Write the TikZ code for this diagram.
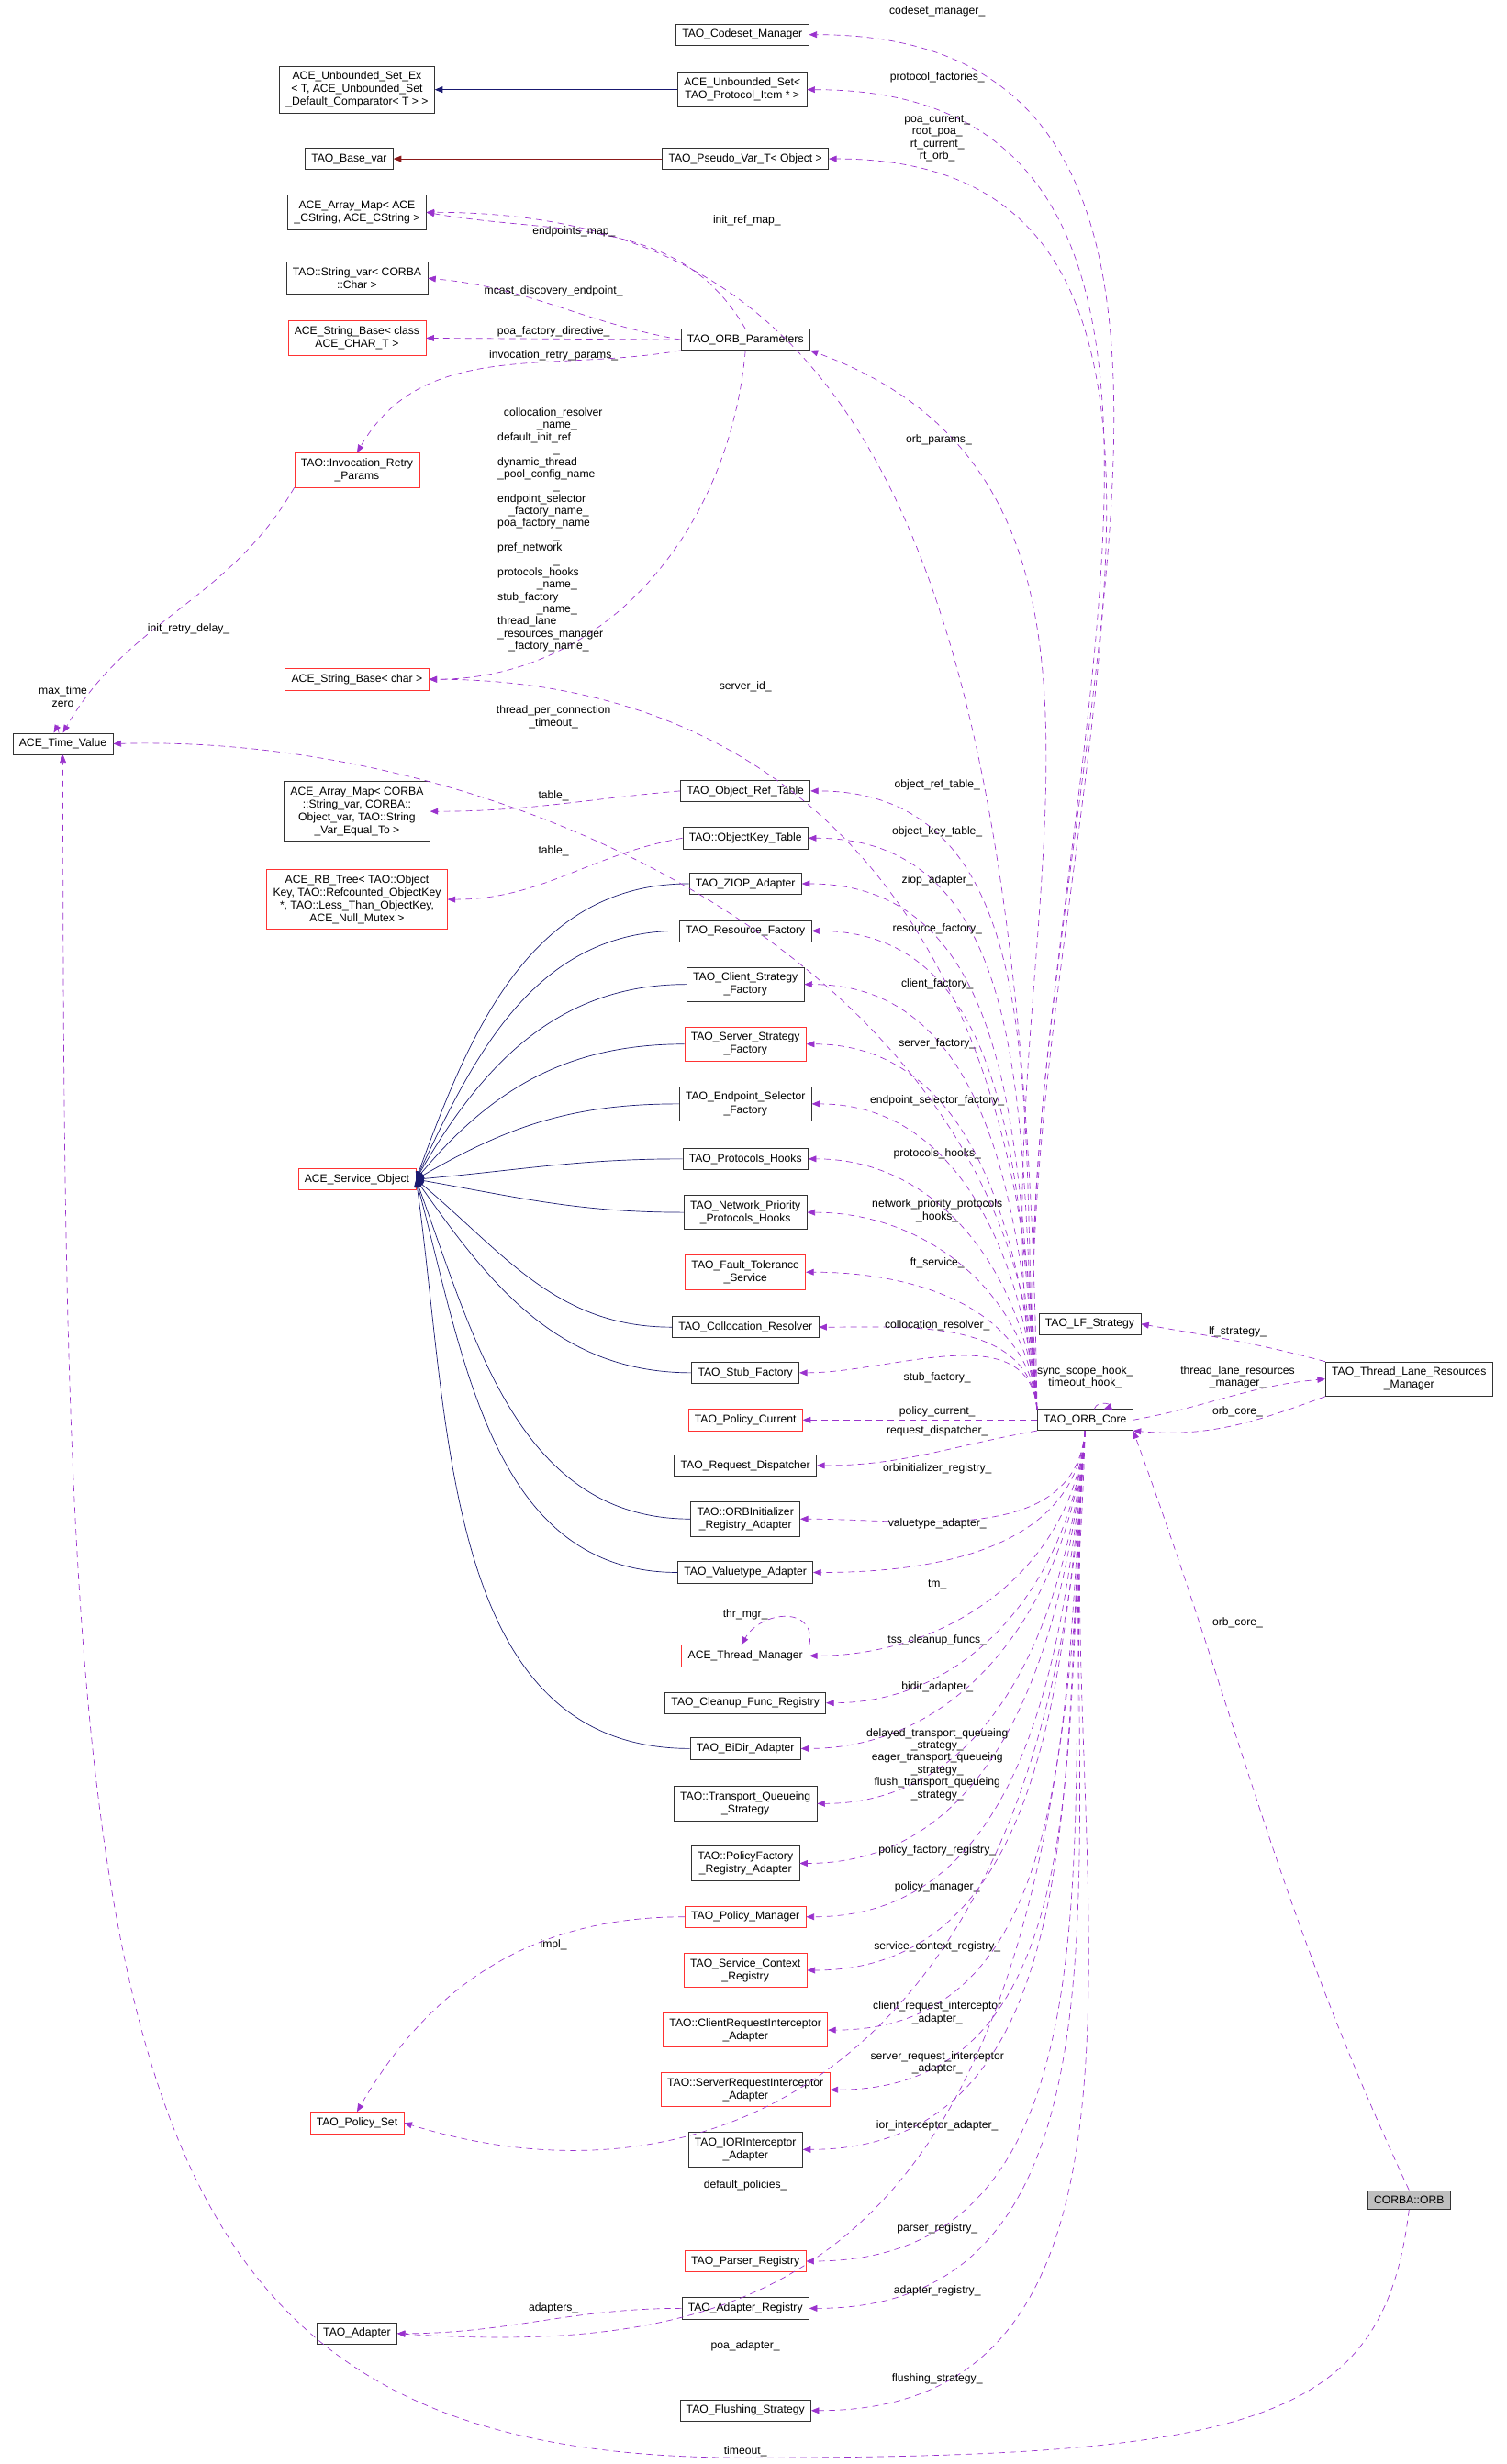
\documentclass[tikz,border=0pt]{standalone}
\usepackage{fontspec}
\setmainfont{Liberation Sans}
\usetikzlibrary{arrows.meta}
\definecolor{edgepurple}{RGB}{154,50,205}
\definecolor{inhblue}{RGB}{25,25,112}
\definecolor{tmplred}{RGB}{139,26,26}
\tikzset{>={Triangle[length=5pt,width=4pt]}, line width=0.5pt}
\tikzset{
  cls/.style={draw=black!80,rectangle,inner xsep=4pt,inner ysep=3.5pt,align=center,font=\fontsize{7.1}{8.2}\selectfont},
  bad/.style={cls,draw=red!80},
  ref/.style={->,dashed,dash pattern=on 4pt off 3pt,draw=edgepurple},
  inh/.style={->,draw=inhblue},
  lbl/.style={align=center,font=\fontsize{7.1}{7.8}\selectfont,inner sep=0pt}
}
\begin{document}
\begin{tikzpicture}[x=1pt,y=-1pt]
  \useasboundingbox (0,0) rectangle (958,1567);

  % top classes
  \node[cls] (codeset) at (472,22) {TAO\_Codeset\_Manager};
  \node[cls] (unbset) at (472,57) {ACE\_Unbounded\_Set<\\TAO\_Protocol\_Item * >};
  \node[cls] (unbsetex) at (227,57) {ACE\_Unbounded\_Set\_Ex\\< T, ACE\_Unbounded\_Set\\\_Default\_Comparator< T > >};
  \node[cls] (basevar) at (222,101) {TAO\_Base\_var};
  \node[cls] (pseudo) at (474,101) {TAO\_Pseudo\_Var\_T< Object >};
  \node[cls] (amapace) at (227,135) {ACE\_Array\_Map< ACE\\\_CString, ACE\_CString >};
  \node[cls] (strvar) at (227,177) {TAO::String\_var< CORBA\\::Char >};
  \node[bad] (strbasecls) at (227,215) {ACE\_String\_Base< class\\ACE\_CHAR\_T >};
  \node[cls] (params) at (474,216) {TAO\_ORB\_Parameters};
  \node[bad] (retry) at (227,299) {TAO::Invocation\_Retry\\\_Params};
  \node[bad] (strbase) at (227,432) {ACE\_String\_Base< char >};
  \node[cls] (timeval) at (40,473) {ACE\_Time\_Value};
  \node[cls] (amapcorba) at (227,516) {ACE\_Array\_Map< CORBA\\::String\_var, CORBA::\\Object\_var, TAO::String\\\_Var\_Equal\_To >};
  \node[cls] (objref) at (474,503) {TAO\_Object\_Ref\_Table};
  \node[cls] (objkey) at (474,533) {TAO::ObjectKey\_Table};
  \node[bad] (rbtree) at (227,572) {ACE\_RB\_Tree< TAO::Object\\Key, TAO::Refcounted\_ObjectKey\\*, TAO::Less\_Than\_ObjectKey,\\ACE\_Null\_Mutex >};

  % service objects
  \node[bad] (svc) at (227,750) {ACE\_Service\_Object};
  \node[cls] (ziop) at (474,562) {TAO\_ZIOP\_Adapter};
  \node[cls] (resfac) at (474,592) {TAO\_Resource\_Factory};
  \node[cls] (client) at (474,626) {TAO\_Client\_Strategy\\\_Factory};
  \node[bad] (server) at (474,664) {TAO\_Server\_Strategy\\\_Factory};
  \node[cls] (endpoint) at (474,702) {TAO\_Endpoint\_Selector\\\_Factory};
  \node[cls] (prothooks) at (474,737) {TAO\_Protocols\_Hooks};
  \node[cls] (netprio) at (474,771) {TAO\_Network\_Priority\\\_Protocols\_Hooks};
  \node[bad] (ft) at (474,809) {TAO\_Fault\_Tolerance\\\_Service};
  \node[cls] (colloc) at (474,844) {TAO\_Collocation\_Resolver};
  \node[cls] (stub) at (474,873) {TAO\_Stub\_Factory};
  \node[bad] (polcur) at (474,903) {TAO\_Policy\_Current};
  \node[cls] (reqdisp) at (474,932) {TAO\_Request\_Dispatcher};
  \node[cls] (orbinit) at (474,966) {TAO::ORBInitializer\\\_Registry\_Adapter};
  \node[cls] (valtype) at (474,1000) {TAO\_Valuetype\_Adapter};
  \node[bad] (thrmgr) at (474,1053) {ACE\_Thread\_Manager};
  \node[cls] (cleanup) at (474,1083) {TAO\_Cleanup\_Func\_Registry};
  \node[cls] (bidir) at (474,1112) {TAO\_BiDir\_Adapter};
  \node[cls] (tqs) at (474,1147) {TAO::Transport\_Queueing\\\_Strategy};
  \node[cls] (polfac) at (474,1185) {TAO::PolicyFactory\\\_Registry\_Adapter};
  \node[bad] (polmgr) at (474,1219) {TAO\_Policy\_Manager};
  \node[bad] (svcctx) at (474,1253) {TAO\_Service\_Context\\\_Registry};
  \node[bad] (clireq) at (474,1291) {TAO::ClientRequestInterceptor\\\_Adapter};
  \node[bad] (srvreq) at (474,1329) {TAO::ServerRequestInterceptor\\\_Adapter};
  \node[cls] (ior) at (474,1367) {TAO\_IORInterceptor\\\_Adapter};
  \node[bad] (polset) at (227,1350) {TAO\_Policy\_Set};
  \node[bad] (parser) at (474,1438) {TAO\_Parser\_Registry};
  \node[cls] (adreg) at (474,1468) {TAO\_Adapter\_Registry};
  \node[cls] (adapter) at (227,1484) {TAO\_Adapter};
  \node[cls] (flush) at (474,1533) {TAO\_Flushing\_Strategy};

  % right side
  \node[cls] (core) at (690,903) {TAO\_ORB\_Core};
  \node[cls] (lf) at (693,842) {TAO\_LF\_Strategy};
  \node[cls] (lane) at (896,877) {TAO\_Thread\_Lane\_Resources\\\_Manager};
  \node[cls,fill=black!25] (orb) at (896,1399) {CORBA::ORB};

  % inheritance
  \draw[inh] (unbset.west) -- (unbsetex.east);
  \draw[->,draw=tmplred] (pseudo.west) -- (basevar.east);
  \foreach \n/\a in {ziop/70,resfac/65,client/60,server/50,endpoint/30,prothooks/5,netprio/-10,colloc/-40,stub/-55,orbinit/-70,valtype/-75,bidir/-82}
    \draw[inh] (\n.west) to[out=180,in=\a] (svc.east);

  % members of TAO_ORB_Core, upper part
  \foreach \n/\l/\ly in {codeset/codeset\_manager\_/7, unbset/protocol\_factories\_/49,
      pseudo/{poa\_current\_\\root\_poa\_\\rt\_current\_\\rt\_orb\_}/88,
      objref/object\_ref\_table\_/499, objkey/object\_key\_table\_/529, ziop/ziop\_adapter\_/560,
      resfac/resource\_factory\_/591, client/client\_factory\_/626, server/server\_factory\_/664,
      endpoint/endpoint\_selector\_factory\_/700, prothooks/protocols\_hooks\_/734,
      netprio/{network\_priority\_protocols\\\_hooks\_}/770, ft/ft\_service\_/803,
      colloc/collocation\_resolver\_/843, stub/stub\_factory\_/876}
    \draw[ref] (core.north west) to[out=95,in=0] (\n.east) node[lbl] at (596,\ly) {\l};
  \draw[ref] (core.north west) .. controls (652,300) and (520,135) .. (amapace.east) node[lbl] at (475,140) {init\_ref\_map\_};
  \draw[ref] (core.north west) to[out=100,in=-20] (params.south east) node[lbl] at (597,280) {orb\_params\_};
  \draw[ref] (core.north west) .. controls (652,560) and (480,432) .. (strbase.east) node[lbl] at (474,437) {server\_id\_};
  \draw[ref] (core.north west) .. controls (652,620) and (330,466) .. (timeval.east) node[lbl] at (352,456) {thread\_per\_connection\\\_timeout\_};

  % middle
  \draw[ref] (core.west) -- (polcur.east) node[lbl] at (596,898) {policy\_current\_};
  \draw[ref] (core.south west) to[out=190,in=0] (reqdisp.east) node[lbl] at (596,910) {request\_dispatcher\_};

  % lower part
  \foreach \n/\l/\ly in {orbinit/orbinitializer\_registry\_/934, valtype/valuetype\_adapter\_/969,
      thrmgr/tm\_/1008, cleanup/tss\_cleanup\_funcs\_/1043, bidir/bidir\_adapter\_/1073,
      tqs/{delayed\_transport\_queueing\\\_strategy\_\\eager\_transport\_queueing\\\_strategy\_\\flush\_transport\_queueing\\\_strategy\_}/1122,
      polfac/policy\_factory\_registry\_/1177, polmgr/policy\_manager\_/1200,
      svcctx/service\_context\_registry\_/1238, clireq/{client\_request\_interceptor\\\_adapter\_}/1280,
      srvreq/{server\_request\_interceptor\\\_adapter\_}/1312, ior/ior\_interceptor\_adapter\_/1352,
      parser/parser\_registry\_/1417, adreg/adapter\_registry\_/1457, flush/flushing\_strategy\_/1513}
    \draw[ref] (core.south) to[out=-95,in=0] (\n.east) node[lbl] at (596,\ly) {\l};
  \draw[ref] (core.south) .. controls (670,1320) and (450,1410) .. (polset.east) node[lbl] at (474,1390) {default\_policies\_};
  \draw[ref] (core.south) .. controls (675,1440) and (500,1500) .. (adapter.east) node[lbl] at (474,1492) {poa\_adapter\_};

  % ORB_Core neighbours
  \draw[ref] (core.50) to[out=70,in=20,looseness=3] (core.30) node[lbl] at (690,876) {sync\_scope\_hook\_\\timeout\_hook\_};
  \draw[ref] (core.east) to[out=10,in=185] (lane.west) node[lbl] at (787,876) {thread\_lane\_resources\\\_manager\_};
  \draw[ref] (lane.south west) to[out=200,in=-5] (core.south east) node[lbl] at (787,898) {orb\_core\_};
  \draw[ref] (lane.north west) to[out=165,in=-10] (lf.east) node[lbl] at (787,847) {lf\_strategy\_};
  \draw[ref] (orb.north) to[out=115,in=-70] (core.south east) node[lbl] at (787,1032) {orb\_core\_};
  \draw[ref] (orb.south) .. controls (880,1540) and (800,1563) .. (474,1563)
    .. controls (60,1563) and (40,1300) .. (timeval.south) node[lbl] at (474,1559) {timeout\_};

  % TAO_ORB_Parameters members
  \draw[ref] (params.north) to[out=120,in=-10] (amapace.east) node[lbl] at (365,147) {endpoints\_map\_};
  \draw[ref] (params.west) to[out=170,in=-5] (strvar.east) node[lbl] at (352,185) {mcast\_discovery\_endpoint\_};
  \draw[ref] (params.west) -- (strbasecls.east) node[lbl] at (352,211) {poa\_factory\_directive\_};
  \draw[ref] (params.south west) to[out=190,in=60] (retry.north) node[lbl] at (352,226) {invocation\_retry\_params\_};
  \draw[ref] (params.south) to[out=-95,in=0] (strbase.east) node[lbl,align=left] at (350,337) {\ \ collocation\_resolver\\\hspace{3.5em}\_name\_\\default\_init\_ref\\\hspace{5em}\_\\dynamic\_thread\\\_pool\_config\_name\\\hspace{5em}\_\\endpoint\_selector\\\hspace{1em}\_factory\_name\_\\poa\_factory\_name\\\hspace{5em}\_\\pref\_network\\\hspace{5em}\_\\protocols\_hooks\\\hspace{3.5em}\_name\_\\stub\_factory\\\hspace{3.5em}\_name\_\\thread\_lane\\\_resources\_manager\\\hspace{1em}\_factory\_name\_};
  \draw[ref] (retry.south west) to[out=-120,in=60] (timeval.north) node[lbl] at (120,400) {init\_retry\_delay\_};
  \draw[ref] (timeval.110) to[out=110,in=60,looseness=6] (timeval.130) node[lbl] at (40,443) {max\_time\\zero};

  % misc
  \draw[ref] (objref.west) to[out=185,in=0] (amapcorba.east) node[lbl] at (352,506) {table\_};
  \draw[ref] (objkey.west) to[out=190,in=0] (rbtree.east) node[lbl] at (352,541) {table\_};
  \draw[ref] (thrmgr.north east) to[out=80,in=60,looseness=1.5] (thrmgr.110) node[lbl] at (474,1027) {thr\_mgr\_};
  \draw[ref] (polmgr.west) to[out=180,in=60] (polset.north) node[lbl] at (352,1237) {impl\_};
  \draw[ref] (adreg.west) to[out=180,in=0] (adapter.east) node[lbl] at (352,1468) {adapters\_};
\end{tikzpicture}
\end{document}
